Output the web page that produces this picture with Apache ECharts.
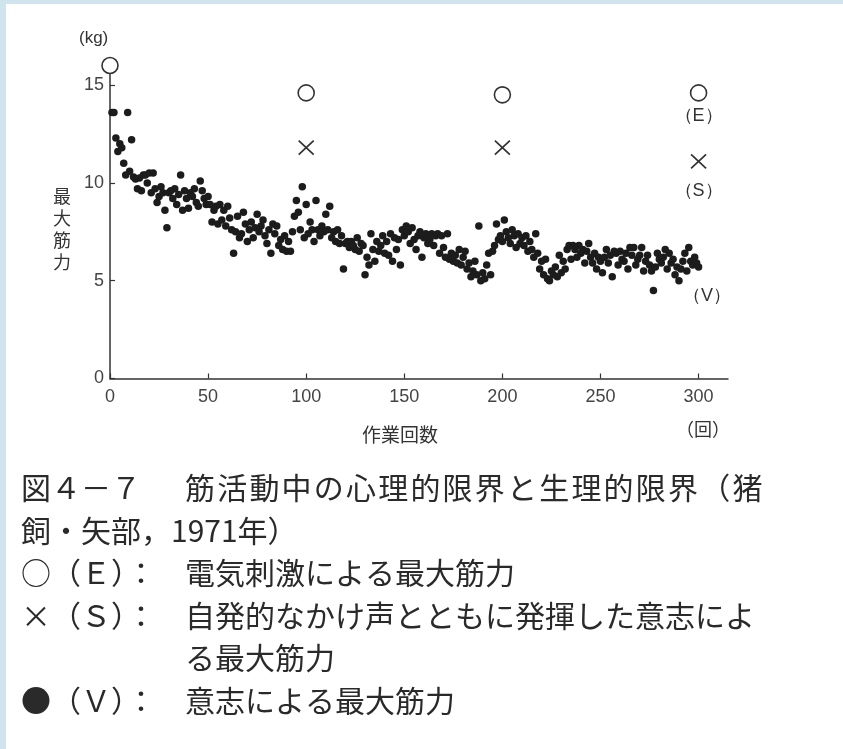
<!DOCTYPE html>
<html><head><meta charset="utf-8">
<script src="https://cdn.jsdelivr.net/npm/echarts@6/dist/echarts.min.js"></script>
<style>html,body{margin:0;padding:0;background:#fff;} #main{width:843px;height:749px;}</style>
</head><body><div id="main"></div>
<script>
// ---- data ----
const xTicks = [0, 50, 100, 150, 200, 250, 300];
const yTicks = [0, 5, 10, 15];
const eX = [0, 100, 200, 300];
const eY = [16.0, 14.6, 14.5, 14.6];
const sX = [100, 200, 300];
const sY = [11.8, 11.8, 11.1];
// voluntary max force (V), one value per trial 1..300
const vY = [
 13.6,13.6,12.3,11.6,12.0,11.8,11.0,10.4,13.6,10.6,
 12.2,10.3,10.2,9.7,10.25,9.6,10.4,10.4,10.0,10.5,
 9.5,10.5,9.7,9.0,9.3,9.8,9.5,8.6,7.7,9.5,
 9.6,9.2,9.7,8.9,9.4,10.4,8.6,9.6,9.2,8.7,
 9.5,9.3,9.7,9.0,8.8,10.1,9.6,9.2,8.9,9.3,
 8.9,8.0,8.6,8.8,7.9,8.9,8.1,8.6,7.8,8.8,
 8.2,7.6,6.4,7.5,8.3,7.2,7.4,8.5,7.9,7.0,
 7.6,8.0,7.2,7.7,8.4,7.5,7.8,8.1,7.3,6.9,
 7.6,6.4,7.9,7.4,7.8,6.8,7.1,6.6,7.3,6.5,
 7.0,6.5,7.5,8.3,9.1,8.5,7.6,9.8,7.2,8.9,
 7.4,8.0,7.6,7.0,9.1,7.6,7.3,7.8,7.5,8.4,
 7.6,8.8,7.2,7.5,7.0,7.6,6.9,7.3,5.6,6.9,
 7.0,6.7,7.0,6.8,6.6,7.2,6.5,6.9,6.8,5.3,
 6.2,5.8,7.4,6.6,6.0,7.0,6.5,6.8,7.3,6.4,
 7.0,6.3,7.4,6.0,7.2,6.6,7.1,5.8,7.6,7.3,
 7.8,7.5,6.9,7.7,7.1,6.6,7.3,7.5,6.2,7.2,
 7.4,6.9,7.1,7.4,6.8,7.3,7.4,6.4,7.3,6.7,
 6.2,7.4,6.1,6.4,6.0,6.3,5.9,6.6,5.8,6.2,
 6.5,5.6,5.9,5.2,5.5,6.0,5.3,7.8,5.0,5.4,
 5.1,5.8,6.4,5.3,6.5,6.8,7.9,7.1,7.3,7.0,
 8.1,7.5,7.2,6.9,7.6,7.3,6.7,7.4,6.9,7.2,
 6.8,7.3,6.5,7.0,6.6,6.2,7.4,6.4,5.6,6.0,
 5.3,6.1,5.1,5.0,5.5,5.3,5.7,5.2,6.3,5.4,
 6.0,5.6,6.6,6.8,6.1,6.8,6.6,6.2,6.8,6.4,
 6.6,5.9,6.5,6.9,6.2,5.9,6.4,5.6,6.2,6.0,
 5.4,6.2,6.6,5.9,6.3,5.2,6.5,6.4,5.8,6.5,
 6.1,6.0,6.4,5.6,6.7,6.3,6.7,5.8,6.1,6.3,
 6.7,5.5,6.0,6.3,5.8,5.5,4.5,5.7,6.4,6.1,
 5.9,6.2,6.6,5.6,6.4,5.9,6.1,5.3,5.7,5.0,
 5.6,6.0,6.4,5.5,6.7,6.0,5.8,6.2,5.9,5.7
];
const capPrefix = ['図４－７', '飼・矢部，1971年）', '○（Ｅ）：', '×（Ｓ）：', '', '●（Ｖ）：'];
const capBody = ['筋活動中の心理的限界と生理的限界（猪', '', '電気刺激による最大筋力',
  '自発的なかけ声とともに発揮した意志によ', 'る最大筋力', '意志による最大筋力'];

// ---- chart ----
const chart = echarts.init(document.getElementById('main'));
const vData = vY.map((y, i) => [i + 1, y]);
const eData = eX.map((x, i) => [x, eY[i]]);
const sData = sX.map((x, i) => [x, sY[i]]);
const numFont = 'Liberation Sans';
const cjk = '"Noto Sans CJK JP"';
const ink = '#333';
const capInk = '#2a2a2a';

const graphics = [
  {type:'rect', shape:{x:0,y:0,width:843,height:4}, style:{fill:'#cfe4ec'}, silent:true},
  {type:'rect', shape:{x:0,y:0,width:6,height:749}, style:{fill:'#cfe4ec'}, silent:true},
  {type:'text', left:79, top:30, style:{text:'(kg)', font:'17px '+numFont, fill:ink}},
  {type:'text', left:53, top:185, style:{text:'最\n大\n筋\n力', font:'18px '+cjk, fill:ink, lineHeight:22}},
  {type:'text', left:362, top:425, style:{text:'作業回数', font:'19px '+cjk, fill:ink}},
  {type:'text', left:676, top:420, style:{text:'（回）', font:'18px '+cjk, fill:ink}},
  {type:'text', left:683, top:287, style:{text:'（V）', font:'18px '+numFont, fill:ink}}
];
const capTops = [473, 516, 558, 601, 643, 686];
capPrefix.forEach((t, i) => {
  if (t) graphics.push({type:'text', left:21, top:capTops[i], style:{text:t, font:'30px '+cjk, fill:capInk}});
});
capBody.forEach((t, i) => {
  if (!t) return;
  if (i === 0) {
    // first line is set wider in the original: place with a 32px pitch
    Array.from(t).forEach((ch, k) => {
      graphics.push({type:'text', left:185 + k * 32.2, top:capTops[i], style:{text:ch, font:'30px '+cjk, fill:capInk}});
    });
  } else {
    graphics.push({type:'text', left:185, top:capTops[i], style:{text:t, font:'30px '+cjk, fill:capInk}});
  }
});

chart.setOption({
  backgroundColor: '#fff',
  animation: false,
  grid: {left:110, top:65.5, width:618, height:313},
  xAxis: {
    type:'value', min:0, max:315,
    axisLine:{lineStyle:{color:ink, width:1.5}},
    axisTick:{inside:true, length:5, customValues:xTicks, lineStyle:{color:ink, width:1.2}},
    axisLabel:{customValues:xTicks, margin:10, fontSize:18, fontFamily:numFont, color:'#444'},
    splitLine:{show:false}
  },
  yAxis: {
    type:'value', min:0, max:16,
    axisLine:{show:true, lineStyle:{color:ink, width:1.5}},
    axisTick:{show:true, inside:true, length:5, customValues:yTicks, lineStyle:{color:ink, width:1.2}},
    axisLabel:{customValues:yTicks, margin:6, fontSize:18, fontFamily:numFont, color:'#444'},
    splitLine:{show:false}
  },
  series: [
    {type:'scatter', data:vData, symbol:'circle', symbolSize:7.5, itemStyle:{color:'#1c1c1c', opacity:1}, z:3},
    {type:'scatter', data:eData, symbol:'circle', symbolSize:16,
     itemStyle:{color:'#fff', borderColor:ink, borderWidth:1.6, opacity:1}, z:4,
     label:{show:true, position:'bottom', distance:5, color:ink, fontSize:18, fontFamily:numFont,
            formatter: p => p.dataIndex === eData.length - 1 ? '（E）' : ''}},
    {type:'scatter', data:sData, symbol:'path://M0,0L10,10M10,0L0,10', symbolSize:[15,14],
     itemStyle:{color:'transparent', borderColor:ink, borderWidth:1.6, opacity:1}, z:4,
     label:{show:true, position:'bottom', distance:13, color:ink, fontSize:18, fontFamily:numFont,
            formatter: p => p.dataIndex === sData.length - 1 ? '（S）' : ''}}
  ],
  graphic: graphics
});
</script></body></html>
